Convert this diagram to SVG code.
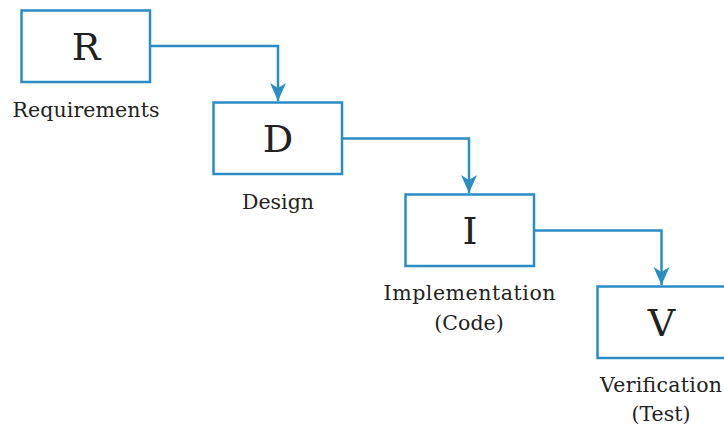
<svg xmlns="http://www.w3.org/2000/svg" width="724" height="428" viewBox="0 0 724 428">
<defs>
<style>
.box{fill:#fff;stroke:#2a8dc5;stroke-width:2.5}
.conn{fill:none;stroke:#2a8dc5;stroke-width:2.5}
.big{font-family:"DejaVu Serif","Liberation Serif",serif;font-size:38px;fill:#222;text-anchor:middle}
.lbl{font-family:"DejaVu Serif","Liberation Serif",serif;font-size:20.5px;fill:#222;text-anchor:middle}
</style>
<marker id="arr" markerUnits="userSpaceOnUse" viewBox="0 -9 19 18" refX="18" refY="0" markerWidth="19" markerHeight="18" orient="auto">
<path d="M0,-8 L18,0 L0,8 L5,0 Z" fill="#2a8dc5"/>
</marker>
</defs>
<rect width="724" height="428" fill="#fff"/>
<g id="connectors">
<path class="conn" d="M150,46 H278 V101" marker-end="url(#arr)"/>
<path class="conn" d="M342,138.5 H469 V193" marker-end="url(#arr)"/>
<path class="conn" d="M534,230.5 H661.5 V285" marker-end="url(#arr)"/>
</g>
<g id="node-R">
<rect class="box" x="21.5" y="10.5" width="128.5" height="71.5"/>
<text class="big" x="86" y="60">R</text>
<text class="lbl" x="86" y="117" textLength="147" lengthAdjust="spacing">Requirements</text>
</g>
<g id="node-D">
<rect class="box" x="213.5" y="102.5" width="128.5" height="71.5"/>
<text class="big" x="278" y="152">D</text>
<text class="lbl" x="278" y="209">Design</text>
</g>
<g id="node-I">
<rect class="box" x="405.5" y="194.5" width="128.5" height="71.5"/>
<text class="big" x="470" y="244">I</text>
<text class="lbl" x="469.5" y="300" textLength="172" lengthAdjust="spacing">Implementation</text>
<text class="lbl" x="469" y="330">(Code)</text>
</g>
<g id="node-V">
<rect class="box" x="597.5" y="286.5" width="128.5" height="71.5"/>
<text class="big" x="661.5" y="336">V</text>
<text class="lbl" x="661" y="392" textLength="122" lengthAdjust="spacing">Verification</text>
<text class="lbl" x="661" y="421">(Test)</text>
</g>
</svg>
